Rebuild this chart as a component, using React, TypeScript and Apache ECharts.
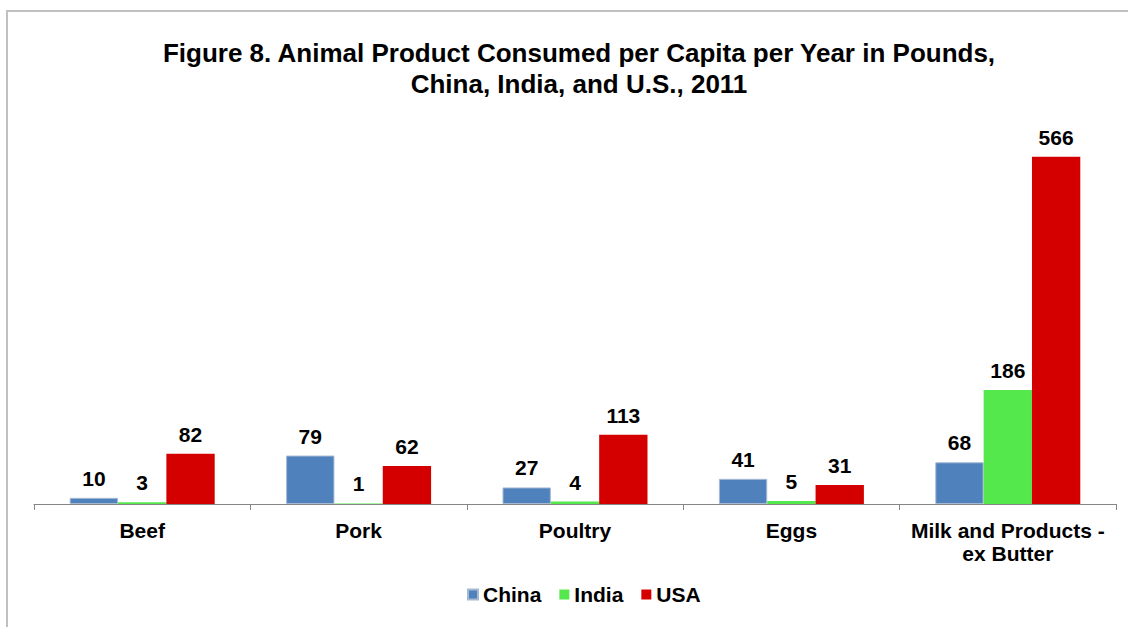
import React, { useEffect, useRef } from "react";
import * as echarts from "echarts";

const categories = ["Beef", "Pork", "Poultry", "Eggs", "Milk and Products -\nex Butter"];
const china = [10, 79, 27, 41, 68];
const india = [3, 1, 4, 5, 186];
const usa = [82, 62, 113, 31, 566];
const seriesNames = ["China", "India", "USA"];
const colors = ["#4f81bd", "#55e84d", "#d40000"];

export default function App() {
  const ref = useRef<HTMLDivElement>(null);
  useEffect(() => {
    const chart = echarts.init(ref.current!, null, { renderer: "svg" });
    const font = "'Liberation Sans', Arial, sans-serif";
    const data = [china, india, usa];
    chart.setOption({
      animation: false,
      backgroundColor: "#ffffff",
      textStyle: { fontFamily: font },
      title: {
        text: "Figure 8. Animal Product Consumed per Capita per Year in Pounds,\nChina, India, and U.S., 2011",
        left: 574,
        textAlign: "center",
        top: 32,
        textStyle: { fontFamily: font, fontSize: 26, fontWeight: "bold", color: "#000", lineHeight: 31 },
      },
      graphic: [
        {
          type: "rect",
          shape: { x: 7, y: 11, width: 1300, height: 800 },
          style: { fill: "none", stroke: "#c0c0c0", lineWidth: 2 },
          silent: true,
        },
      ],
      legend: {
        top: 579,
        left: 462,
        itemWidth: 10,
        itemHeight: 10,
        itemGap: 18,
        icon: "rect",
        textStyle: { fontFamily: font, fontSize: 21, fontWeight: "bold", color: "#000" },
        data: seriesNames,
      },
      grid: { left: 34, right: 12, top: 136, bottom: 123, containLabel: false },
      xAxis: {
        type: "category",
        data: categories,
        axisLine: { show: true, lineStyle: { color: "#868686", width: 1 } },
        axisTick: { show: true, length: 6, lineStyle: { color: "#868686" } },
        axisLabel: {
          fontFamily: font,
          fontSize: 21,
          fontWeight: "bold",
          color: "#000",
          margin: 15,
          lineHeight: 23,
          interval: 0,
        },
      },
      yAxis: {
        type: "value",
        min: 0,
        max: 600,
        interval: 100,
        show: false,
        splitLine: { show: false },
      },
      series: seriesNames.map((name, i) => ({
        name,
        type: "bar",
        data: data[i],
        barGap: "0%",
        barCategoryGap: "33%",
        itemStyle: { color: colors[i], borderColor: i === 0 ? "#a6b9d3" : colors[i], borderWidth: i === 0 ? 1 : 0 },
        label: {
          show: true,
          position: "top",
          distance: 9,
          fontFamily: font,
          fontSize: 21,
          fontWeight: "bold",
          color: "#000",
        },
      })),
    });
    return () => chart.dispose();
  }, []);
  return (
    <div
      ref={ref}
      style={{ position: "absolute", left: 0, top: 0, width: 1128, height: 627 }}
    />
  );
}
